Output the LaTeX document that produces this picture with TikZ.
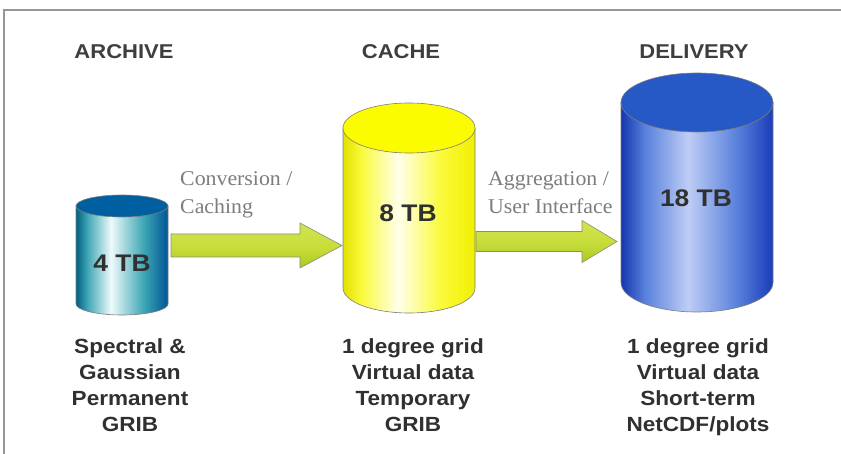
\documentclass[tikz,border=0pt]{standalone}
\usepackage{fontspec}
\setmainfont{Liberation Sans}
\newfontfamily\widesans{Liberation Sans}[FakeStretch=1.1]
\newfontfamily\labelserif{Liberation Serif}[FakeStretch=1.04]
\usetikzlibrary{calc}

\definecolor{frameg}{RGB}{150,150,150}
\definecolor{cylline}{RGB}{125,125,125}
\definecolor{headg}{RGB}{62,62,62}
\definecolor{textg}{RGB}{48,48,48}
\definecolor{arrtext}{RGB}{125,125,125}
% archive
\definecolor{archA}{RGB}{0,95,125}
\definecolor{archB}{RGB}{60,165,180}
\definecolor{archC}{RGB}{238,250,250}
\definecolor{archD}{RGB}{0,85,150}
\definecolor{archtop}{RGB}{0,95,160}
% cache
\definecolor{cacheA}{RGB}{225,225,0}
\definecolor{cacheB}{RGB}{250,250,60}
\definecolor{cacheC}{RGB}{255,255,235}
\definecolor{cacheD}{RGB}{240,240,0}
\definecolor{cachetop}{RGB}{252,252,0}
% delivery
\definecolor{delA}{RGB}{20,55,175}
\definecolor{delB}{RGB}{90,130,220}
\definecolor{delC}{RGB}{190,205,245}
\definecolor{delD}{RGB}{25,60,185}
\definecolor{deltop}{RGB}{38,88,198}
% arrows
\definecolor{arrT}{RGB}{210,228,80}
\definecolor{arrM}{RGB}{200,222,60}
\definecolor{arrB}{RGB}{175,200,35}
\definecolor{arrline}{RGB}{140,140,120}

\pgfdeclarehorizontalshading{archshade}{100bp}{color(0bp)=(archA); color(25bp)=(archA); color(31bp)=(archB); color(44bp)=(archC); color(62bp)=(archB); color(75bp)=(archD); color(100bp)=(archD)}
\pgfdeclarehorizontalshading{cacheshade}{100bp}{color(0bp)=(cacheA); color(25bp)=(cacheA); color(32bp)=(cacheB); color(46bp)=(cacheC); color(62bp)=(cacheB); color(75bp)=(cacheD); color(100bp)=(cacheD)}
\pgfdeclarehorizontalshading{delshade}{100bp}{color(0bp)=(delA); color(25bp)=(delA); color(33bp)=(delB); color(47bp)=(delC); color(63bp)=(delB); color(75bp)=(delD); color(100bp)=(delD)}

\tikzset{
  heading/.style={font=\widesans\bfseries\fontsize{20}{24}\selectfont, text=headg, inner sep=0pt, anchor=base},
  desc/.style={font=\widesans\bfseries\fontsize{20.5}{26.3}\selectfont, text=textg, inner sep=0pt, anchor=north, align=center},
  cyllabel/.style={font=\widesans\bfseries\fontsize{24}{28}\selectfont, text=textg, inner sep=0pt},
  arrlabel/.style={font=\labelserif\fontsize{21}{28}\selectfont, text=arrtext, inner sep=0pt, anchor=north west, align=left},
  cylbody/.style={shade, draw=cylline, line width=0.6pt},
  cyltop/.style={draw=cylline, line width=0.6pt},
  fatarrow/.style={top color=arrT, bottom color=arrB, middle color=arrM, draw=arrline, line width=0.6pt, line join=miter}
}

\begin{document}
\begin{tikzpicture}[x=1pt, y=-1pt]
\useasboundingbox (0,0) rectangle (841,454);
\fill[white] (0,0) rectangle (841,454);

% frame
\draw[frameg, line width=1.4pt] (841,10) -- (4,10) -- (4,454);

% headings
\node[heading] (hArch) at (124,59) {ARCHIVE};
\node[heading] (hCache) at (401,59) {CACHE};
\node[heading] (hDel) at (694,59) {DELIVERY};

% archive cylinder
\path[cylbody, shading=archshade] (76,206) -- (76,304) arc[start angle=180, end angle=360, x radius=46pt, y radius=11pt] -- (168,206) -- cycle;
\path[cyltop, fill=archtop] (122,206) ellipse [x radius=46pt, y radius=11pt];
\node[cyllabel] (arch) at (122,263) {4 TB};

% cache cylinder
\path[cylbody, shading=cacheshade] (343,128) -- (343,288) arc[start angle=180, end angle=360, x radius=66pt, y radius=25pt] -- (475,128) -- cycle;
\path[cyltop, fill=cachetop] (409,128) ellipse [x radius=66pt, y radius=25pt];
\node[cyllabel] (cache) at (408,213) {8 TB};

% delivery cylinder
\path[cylbody, shading=delshade] (621,102.5) -- (621,282.5) arc[start angle=180, end angle=360, x radius=76pt, y radius=29.5pt] -- (773,102.5) -- cycle;
\path[cyltop, fill=deltop] (697,102.5) ellipse [x radius=76pt, y radius=29.5pt];
\node[cyllabel] (del) at (696,198) {18 TB};

% arrows
\coordinate (a1s) at (171,245.5);
\coordinate (a1e) at (342,245.5);
\path[fatarrow] ($(a1s)+(0,-11.5)$) -- ($(a1e)+(-42,-11.5)$) -- ($(a1e)+(-42,-22.5)$) -- (a1e)
  -- ($(a1e)+(-42,22.5)$) -- ($(a1e)+(-42,11.5)$) -- ($(a1s)+(0,11.5)$) -- cycle;

\coordinate (a2s) at (476,241.5);
\coordinate (a2e) at (617,241.5);
\path[fatarrow] ($(a2s)+(0,-10)$) -- ($(a2e)+(-35,-10)$) -- ($(a2e)+(-35,-21)$) -- (a2e)
  -- ($(a2e)+(-35,21)$) -- ($(a2e)+(-35,10)$) -- ($(a2s)+(0,10)$) -- cycle;

% arrow labels
\node[arrlabel] (l1) at (180,171) {Conversion /\\Caching};
\node[arrlabel] (l2) at (488,171) {Aggregation /\\User Interface};

% descriptions
\node[desc] (dArch) at (130,338) {Spectral \&\\Gaussian\\Permanent\\GRIB};
\node[desc] (dCache) at (413,338) {1 degree grid\\Virtual data\\Temporary\\GRIB};
\node[desc] (dDel) at (698,338) {1 degree grid\\Virtual data\\Short-term\\NetCDF/plots};
\end{tikzpicture}
\end{document}
